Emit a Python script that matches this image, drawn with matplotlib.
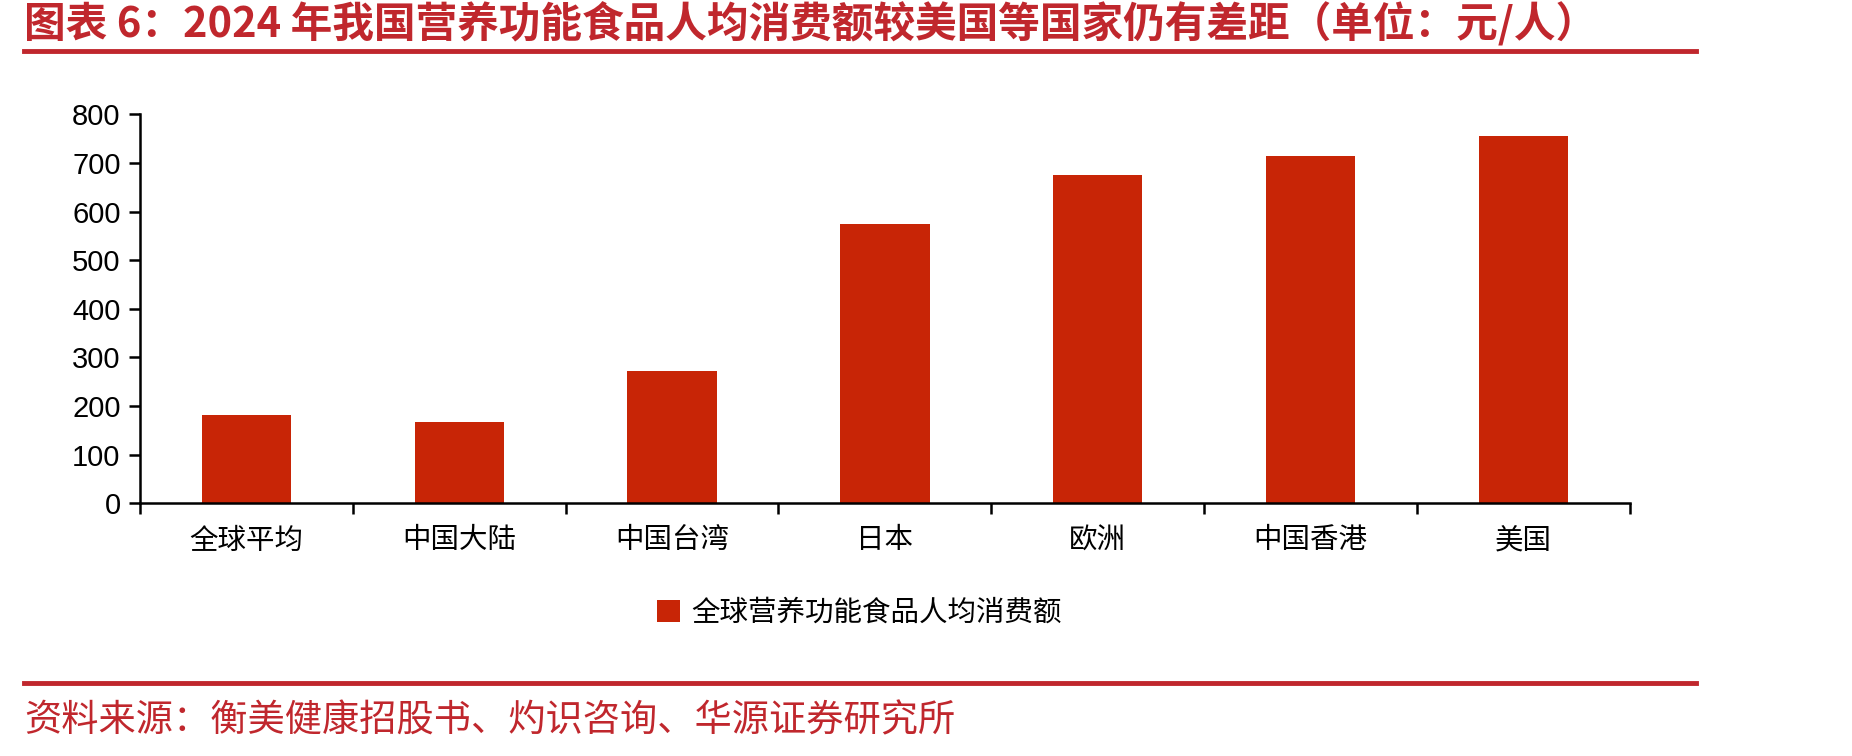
import matplotlib.pyplot as plt
from matplotlib.lines import Line2D

plt.rcParams['font.family'] = ['Noto Sans CJK SC', 'DejaVu Sans']

categories = ["全球平均", "中国大陆", "中国台湾", "日本", "欧洲", "中国香港", "美国"]
values = [182, 168, 273, 574, 676, 714, 756]
series_name = "全球营养功能食品人均消费额"
yticks = [0, 100, 200, 300, 400, 500, 600, 700, 800]

title = "图表 6：2024 年我国营养功能食品人均消费额较美国等国家仍有差距（单位：元/人）"
source = "资料来源：衡美健康招股书、灼识咨询、华源证券研究所"

red = "#C0272D"
bar_color = "#C82506"

fig = plt.figure(figsize=(18.52, 7.56), dpi=100)
ax = fig.add_axes([0.0756, 0.3343, 0.8044, 0.5145])

x = range(len(categories))
ax.bar(x, values, width=0.42, color=bar_color, label=series_name, zorder=2)

ax.set_xlim(-0.5, len(categories) - 0.5)
ax.set_ylim(0, 800)
ax.set_yticks(yticks)
ax.set_yticklabels([str(v) for v in yticks], fontsize=21, family=['Arial', 'Liberation Sans', 'DejaVu Sans'])

# category labels centred, ticks on boundaries
ax.set_xticks(list(x))
ax.set_xticklabels(categories, fontsize=20.5)
ax.tick_params(axis='x', which='major', length=0, pad=16)
ax.set_xticks([i - 0.5 for i in range(len(categories) + 1)], minor=True)
ax.tick_params(axis='x', which='minor', length=8, width=1.8, direction='out')
ax.tick_params(axis='y', length=8, width=1.8, direction='out', pad=6)

for s in ["top", "right"]:
    ax.spines[s].set_visible(False)
for s in ["left", "bottom"]:
    ax.spines[s].set_linewidth(1.8)
    ax.spines[s].set_color("black")

leg = fig.legend(loc="center", bbox_to_anchor=(0.464, 0.189), frameon=False,
                 fontsize=20.5, handlelength=0.8, handleheight=0.8, handletextpad=0.4)

# title and decorative rules
fig.text(0.013, 0.968, title, fontsize=30, fontweight="bold", color=red, va="center", ha="left")
fig.add_artist(Line2D([0.013, 0.916], [0.932, 0.932], color=red, linewidth=3.5))
fig.add_artist(Line2D([0.013, 0.916], [0.097, 0.097], color=red, linewidth=3.5))
fig.text(0.013, 0.046, source, fontsize=26.8, color=red, va="center", ha="left")

fig.savefig("out.png", dpi=100, facecolor="white")
